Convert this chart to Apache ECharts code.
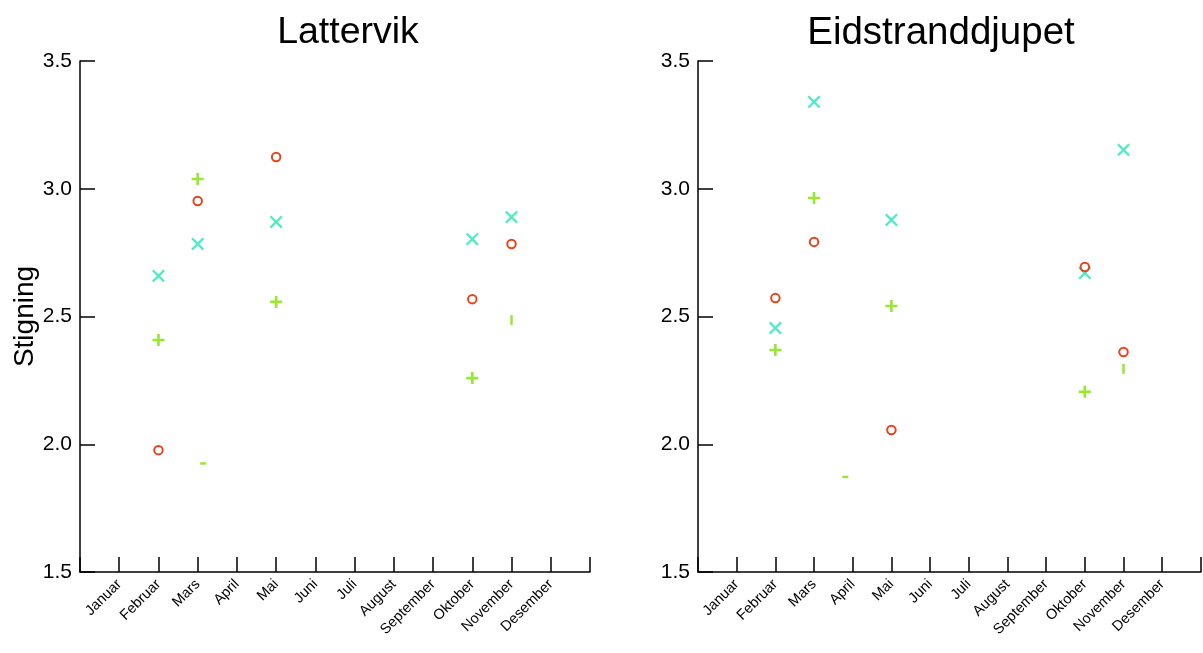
<!DOCTYPE html>
<html>
<head>
<meta charset="utf-8">
<script src="https://cdn.jsdelivr.net/npm/echarts@6/dist/echarts.min.js"></script>
<style>
html,body{margin:0;padding:0;background:#fff;}
#chart{width:1203px;height:653px;}
</style>
</head>
<body>
<div id="chart"></div>
<script>
// Month names (x positions 1..12)
const months = ['Januar','Februar','Mars','April','Mai','Juni','Juli','August','September','Oktober','November','Desember'];
const yTicks = [1.5, 2.0, 2.5, 3.0, 3.5];
const panelTitles = ['Lattervik', 'Eidstranddjupet'];

// Lattervik: [monthIndex, value]
const lattervikCircle = [[2, 1.977], [3, 2.952], [5, 3.124], [10, 2.568], [11, 2.784]];
const lattervikCross  = [[2, 2.659], [3, 2.784], [5, 2.870], [10, 2.803], [11, 2.889]];
const lattervikPlus   = [[2, 2.408], [3, 3.038], [5, 2.557], [10, 2.259]];
const lattervikDash   = [[3.14, 1.925]];
const lattervikBar    = [[11, 2.486]];

// Eidstranddjupet
const eidCircle = [[2, 2.572], [3, 2.792], [5, 2.056], [10, 2.694], [11, 2.361]];
const eidCross  = [[2, 2.455], [3, 3.340], [5, 2.878], [10, 2.670], [11, 3.152]];
const eidPlus   = [[2, 2.369], [3, 2.964], [5, 2.541], [10, 2.205]];
const eidDash   = [[3.81, 1.872]];
const eidBar    = [[11, 2.295]];

const RED = '#e8431a', TEAL = '#1ee6b4', GREEN = '#80e000';
const FONT = "'Liberation Sans', Arial, sans-serif";
const PLUS = 'path://M3.9,0H6.1V3.9H10V6.1H6.1V10H3.9V6.1H0V3.9H3.9Z';
const CROSS = 'path://M4.3,0H5.7V4.3H10V5.7H5.7V10H4.3V5.7H0V4.3H4.3Z';

const chart = echarts.init(document.getElementById('chart'), null, {renderer: 'canvas'});

const grids = [
  {left: 80, top: 61, width: 510, height: 511},
  {left: 698, top: 61, width: 510, height: 511}
];

function xAxis(i) {
  return {
    gridIndex: i, type: 'value', min: 0, max: 13, interval: 1,
    axisLine: {show: true, onZero: false, lineStyle: {color: '#000', width: 1.5}},
    axisTick: {show: true, inside: true, length: 15, lineStyle: {color: '#000', width: 1.5}},
    splitLine: {show: false},
    axisLabel: {
      rotate: 45, fontSize: 14.5, color: '#000', fontFamily: FONT, margin: 10,
      showMinLabel: true, showMaxLabel: true,
      formatter: v => (v >= 1 && v <= 12 && Number.isInteger(v)) ? months[v - 1] : ''
    }
  };
}
function yAxis(i) {
  return {
    gridIndex: i, type: 'value', min: yTicks[0], max: yTicks[yTicks.length - 1], interval: 0.5,
    name: i === 0 ? 'Stigning' : '', nameLocation: 'middle', nameGap: 41,
    nameTextStyle: {fontSize: 28, color: '#000', fontFamily: FONT},
    axisLine: {show: true, onZero: false, lineStyle: {color: '#000', width: 1.5}},
    axisTick: {show: true, inside: true, length: 15, lineStyle: {color: '#000', width: 1.5}},
    splitLine: {show: false},
    axisLabel: {fontSize: 21, color: '#000', fontFamily: FONT, margin: 8, formatter: v => v.toFixed(1)}
  };
}

function makeSeries(i, circle, cross, plus, dash, bar) {
  return [
    {type: 'scatter', xAxisIndex: i, yAxisIndex: i, data: circle, symbol: 'circle', symbolSize: 8.5,
     itemStyle: {color: 'rgba(255,255,255,0)', borderColor: RED, borderWidth: 2, opacity: 1}, silent: true, z: 3},
    {type: 'scatter', xAxisIndex: i, yAxisIndex: i, data: cross, symbol: CROSS, symbolSize: 16, symbolRotate: 45,
     itemStyle: {color: TEAL}, silent: true, z: 2},
    {type: 'scatter', xAxisIndex: i, yAxisIndex: i, data: plus, symbol: PLUS, symbolSize: 12,
     itemStyle: {color: GREEN}, silent: true, z: 2},
    {type: 'scatter', xAxisIndex: i, yAxisIndex: i, data: dash, symbol: 'rect', symbolSize: [6, 2.5],
     itemStyle: {color: GREEN}, silent: true, z: 2},
    {type: 'scatter', xAxisIndex: i, yAxisIndex: i, data: bar, symbol: 'rect', symbolSize: [2.5, 10],
     itemStyle: {color: GREEN}, silent: true, z: 2}
  ];
}

chart.setOption({
  backgroundColor: '#fff',
  animation: false,
  title: [
    {text: panelTitles[0], left: 343, top: 9, textAlign: 'center',
     textStyle: {fontSize: 37.5, fontWeight: 'normal', color: '#000', fontFamily: FONT}},
    {text: panelTitles[1], left: 936, top: 9, textAlign: 'center',
     textStyle: {fontSize: 38.5, fontWeight: 'normal', color: '#000', fontFamily: FONT}}
  ],
  grid: grids,
  xAxis: [xAxis(0), xAxis(1)],
  yAxis: [yAxis(0), yAxis(1)],
  series: [
    ...makeSeries(0, lattervikCircle, lattervikCross, lattervikPlus, lattervikDash, lattervikBar),
    ...makeSeries(1, eidCircle, eidCross, eidPlus, eidDash, eidBar)
  ]
});
</script>
</body>
</html>
